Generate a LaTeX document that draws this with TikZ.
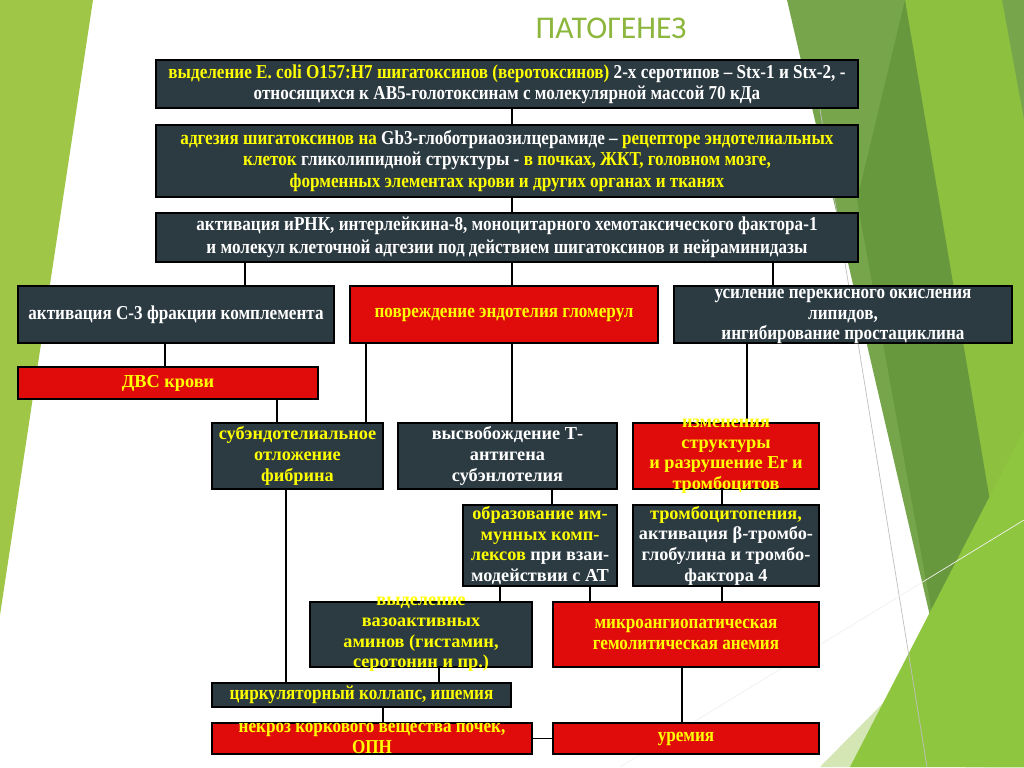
\documentclass[tikz,border=0pt]{standalone}
\usepackage{fontspec}
\setmainfont{Liberation Serif}
\newfontfamily\cnd{Liberation Serif}[FakeStretch=0.87]
\newfontfamily\titlefont{Carlito}
\usetikzlibrary{fit}
\definecolor{dk}{RGB}{44,58,66}
\definecolor{rd}{RGB}{224,12,12}
\definecolor{yl}{RGB}{255,255,0}
\definecolor{lgreen}{RGB}{160,198,72}
\definecolor{gmid}{RGB}{118,165,76}
\definecolor{glight}{RGB}{141,192,63}
\definecolor{gdark}{RGB}{104,152,62}
\definecolor{gbright}{RGB}{143,198,63}
\definecolor{gpale}{RGB}{200,224,160}
\definecolor{ttl}{RGB}{140,182,60}
\tikzset{
  bx/.style={draw=black, line width=0.9pt, inner sep=0pt},
  dkbox/.style={bx, fill=dk},
  rdbox/.style={bx, fill=rd},
  conn/.style={draw=black, line width=1.4pt},
  txt/.style={align=center, inner sep=0pt, font=\bfseries\fontsize{13}{14.7}\selectfont},
  ctxt/.style={align=center, inner sep=0pt, font=\cnd\bfseries\fontsize{14}{15}\selectfont},
}
\newcommand{\Y}[1]{\textcolor{yl}{#1}}
\newcommand{\W}[1]{\textcolor{white}{#1}}
\begin{document}
\begin{tikzpicture}[x=0.25mm,y=-0.25mm]
\useasboundingbox (0,0) rectangle (1024,767);
% background
\fill[white] (0,0) rectangle (1024,767);
\fill[lgreen] (0,0) -- (93,0) -- (0,615) -- cycle;
\fill[gmid] (787,0) -- (1024,0) -- (1024,767) -- (965,767) -- cycle;
\fill[glight] (905,0) -- (1002,0) -- (1024,120) -- (1024,767) -- (985,767) -- cycle;
\fill[gdark] (857,200) -- (905,0) -- (1000,560) -- (960,767) -- cycle;
\fill[gpale, opacity=0.8] (820,767) -- (1024,560) -- (1024,767) -- cycle;
\fill[gbright] (850,767) -- (1024,430) -- (1024,767) -- cycle;
\draw[gray!50, line width=0.5pt] (812,60) -- (927,767);
\draw[white!88!gray, line width=0.5pt] (620,767) -- (1024,520);
% title
\node[font=\titlefont\fontsize{22.5}{25}\selectfont, text=ttl] (title) at (611,28) {ПАТОГЕНЕЗ};
% boxes
\node[dkbox, fit={(156,60) (858,108)}] (b1) {};
\node[dkbox, fit={(156,125) (858,197)}] (b2) {};
\node[dkbox, fit={(156,213) (858,262)}] (b3) {};
\node[dkbox, fit={(18,286) (334,343)}] (b4) {};
\node[rdbox, fit={(350,286) (658,343)}] (b5) {};
\node[dkbox, fit={(674,286) (1012,343)}] (b6) {};
\node[rdbox, fit={(18,367) (318,399)}] (b7) {};
\node[dkbox, fit={(212,423) (383,489)}] (b8) {};
\node[dkbox, fit={(398,423) (617,489)}] (b9) {};
\node[rdbox, fit={(633,423) (819,489)}] (b10) {};
\node[dkbox, fit={(463,505) (617,586)}] (b11) {};
\node[dkbox, fit={(633,505) (819,586)}] (b12) {};
\node[dkbox, fit={(310,602) (532,667)}] (b13) {};
\node[rdbox, fit={(553,602) (819,667)}] (b14) {};
\node[dkbox, fit={(212,683) (511,707)}] (b15) {};
\node[rdbox, fit={(212,723) (532,754)}] (b16) {};
\node[rdbox, fit={(553,723) (819,754)}] (b17) {};
% connector x positions
\coordinate (x165) at (165,0);
\coordinate (x245) at (245,0);
\coordinate (x277) at (277,0);
\coordinate (x286) at (286,0);
\coordinate (x366) at (366,0);
\coordinate (x383) at (383,0);
\coordinate (x439) at (439,0);
\coordinate (x500) at (500,0);
\coordinate (x512) at (512,0);
\coordinate (x552) at (552,0);
\coordinate (x590) at (590,0);
\coordinate (x682) at (682,0);
\coordinate (x722) at (722,0);
\coordinate (x747) at (747,0);
\coordinate (x773) at (773,0);
\draw[conn] (b1.south -| x512) -- (b2.north -| x512);
\draw[conn] (b2.south -| x512) -- (b3.north -| x512);
\draw[conn] (b3.south -| x245) -- (b4.north -| x245);
\draw[conn] (b3.south -| x512) -- (b5.north -| x512);
\draw[conn] (b3.south -| x773) -- (b6.north -| x773);
\draw[conn] (b4.south -| x165) -- (b7.north -| x165);
\draw[conn] (b7.south -| x277) -- (b8.north -| x277);
\draw[conn] (b5.south -| x366) -- (b8.north -| x366);
\draw[conn] (b5.south -| x512) -- (b9.north -| x512);
\draw[conn] (b6.south -| x747) -- (b10.north -| x747);
\draw[conn] (b9.south -| x552) -- (b11.north -| x552);
\draw[conn] (b10.south -| x722) -- (b12.north -| x722);
\draw[conn] (b11.south -| x500) -- (b13.north -| x500);
\draw[conn] (b11.south -| x590) -- (b14.north -| x590);
\draw[conn] (b12.south -| x722) -- (b14.north -| x722);
\draw[conn] (b8.south -| x286) -- (b15.north -| x286);
\draw[conn] (b13.south -| x439) -- (b15.north -| x439);
\draw[conn] (b15.south -| x383) -- (b16.north -| x383);
\draw[conn] (b14.south -| x682) -- (b17.north -| x682);
\draw[conn] (b16) -- (b17);
% texts
\node[ctxt] at (b1) {\Y{выделение E. coli O157:H7 шигатоксинов (веротоксинов)} \W{2-х серотипов – Stx-1 и Stx-2, -}\\ \W{относящихся к АВ5-голотоксинам с молекулярной массой 70 кДа}};
\node[ctxt, font=\cnd\bfseries\fontsize{14}{15.3}\selectfont] at (b2) {\Y{адгезия шигатоксинов на} \W{Gb3-глоботриаозилцерамиде –} \Y{рецепторе эндотелиальных}\\ \Y{клеток} \W{гликолипидной структуры -} \Y{в почках, ЖКТ, головном мозге,}\\ \Y{форменных элементах крови и других органах и тканях}};
\node[ctxt, text=white, font=\cnd\bfseries\fontsize{14}{16.4}\selectfont] at (b3) {активация иРНК, интерлейкина-8, моноцитарного хемотаксического фактора-1\\ и молекул клеточной адгезии под действием шигатоксинов и нейраминидазы};
\node[ctxt, text=white] at (b4) {активация С-3 фракции комплемента};
\node[ctxt, text=yl] at (b5) {повреждение эндотелия гломерул};
\node[ctxt, text=white, font=\cnd\bfseries\fontsize{14}{14.6}\selectfont] at ([yshift=-0.5mm]b6.center) {усиление перекисного окисления\\ липидов,\\ ингибирование простациклина};
\node[txt, text=yl] at (b7) {ДВС крови};
\node[txt, text=yl] at (b8) {субэндотелиальное\\ отложение\\ фибрина};
\node[txt, text=white] at (b9) {высвобождение Т-\\ антигена\\ субэнлотелия};
\node[txt, text=yl] at (b10) {изменения\\ структуры\\ и разрушение Er и\\ тромбоцитов};
\node[txt] at (b11) {\Y{образование им-}\\ \Y{мунных комп-}\\ \Y{лексов} \W{при взаи-}\\ \W{модействии с АТ}};
\node[txt] at (b12) {\Y{тромбоцитопения,}\\ \W{активация β-тромбо-}\\ \W{глобулина и тромбо-}\\ \W{фактора 4}};
\node[txt, text=yl] at (b13) {выделение\\ вазоактивных\\ аминов (гистамин,\\ серотонин и пр.)};
\node[ctxt, text=yl] at (b14) {микроангиопатическая\\ гемолитическая анемия};
\node[ctxt, text=yl] at (b15) {циркуляторный коллапс, ишемия};
\node[ctxt, text=yl] at (b16) {некроз коркового вещества почек,\\ ОПН};
\node[ctxt, text=yl] at (b17) {уремия};
\end{tikzpicture}
\end{document}
